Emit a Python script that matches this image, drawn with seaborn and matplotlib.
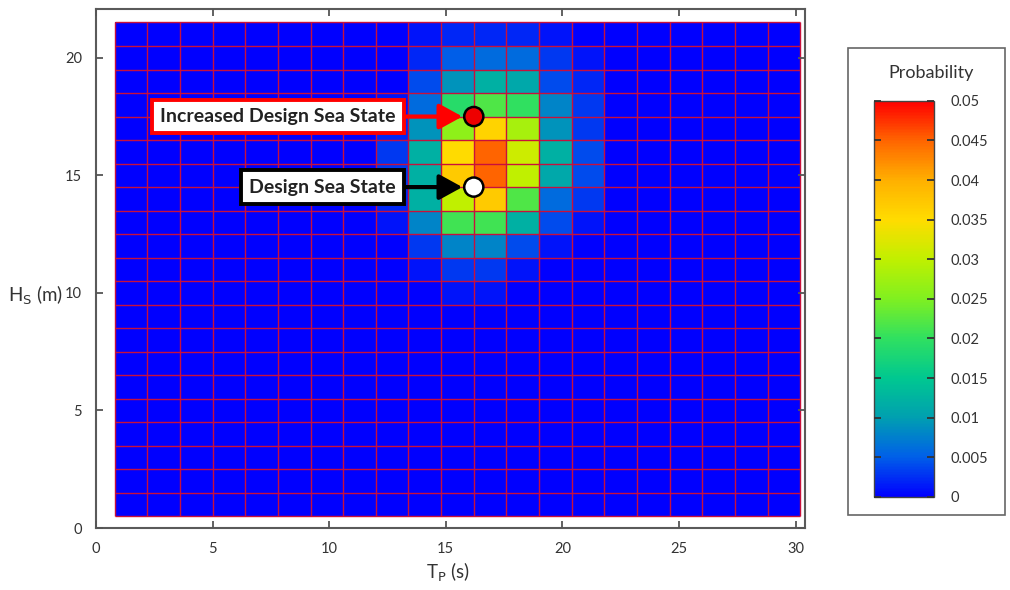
import numpy as np
import pandas as pd
import matplotlib
matplotlib.use("Agg")
import matplotlib.pyplot as plt
import seaborn as sns
from matplotlib.colors import LinearSegmentedColormap
from matplotlib.patches import Rectangle

# Grid of sea states: Tp column centres (s) and Hs row centres (m), top row first
tp_centers = [1.5, 2.9, 4.3, 5.7, 7.1, 8.5, 9.9, 11.3, 12.7, 14.1, 15.5,
              16.9, 18.3, 19.7, 21.1, 22.5, 23.9, 25.3, 26.7, 28.1, 29.5]
hs_centers = [21, 20, 19, 18, 17, 16, 15, 14, 13, 12, 11,
              10, 9, 8, 7, 6, 5, 4, 3, 2, 1]
tp_width = 1.4

# Non-zero part of the scatter diagram (Tp columns 12.7 .. 21.1 s), per Hs row
block_cols = [12.7, 14.1, 15.5, 16.9, 18.3, 19.7, 21.1]
block_rows = {
    21: [0.000, 0.001, 0.002, 0.002, 0.002, 0.001, 0.000],
    20: [0.000, 0.002, 0.005, 0.006, 0.006, 0.003, 0.001],
    19: [0.000, 0.004, 0.009, 0.012, 0.011, 0.004, 0.002],
    18: [0.001, 0.006, 0.019, 0.022, 0.020, 0.008, 0.003],
    17: [0.002, 0.009, 0.026, 0.036, 0.028, 0.009, 0.003],
    16: [0.003, 0.012, 0.035, 0.045, 0.031, 0.012, 0.004],
    15: [0.003, 0.012, 0.037, 0.045, 0.030, 0.011, 0.004],
    14: [0.002, 0.012, 0.030, 0.037, 0.022, 0.006, 0.003],
    13: [0.001, 0.008, 0.021, 0.021, 0.012, 0.004, 0.001],
    12: [0.000, 0.003, 0.008, 0.008, 0.004, 0.001, 0.000],
    11: [0.000, 0.001, 0.003, 0.003, 0.001, 0.000, 0.000],
    10: [0.000, 0.000, 0.001, 0.001, 0.000, 0.000, 0.000],
}

# Marked sea states (Tp, Hs)
design_tp, design_hs = 16.2, 14.5
increased_tp, increased_hs = 16.2, 17.5

x_ticks = [0, 5, 10, 15, 20, 25, 30]
y_ticks = [0, 5, 10, 15, 20]
cb_ticks = [0, 0.005, 0.01, 0.015, 0.02, 0.025, 0.03, 0.035, 0.04, 0.045, 0.05]

# Build the probability table
prob = pd.DataFrame(0.0, index=hs_centers, columns=tp_centers)
for hs, vals in block_rows.items():
    prob.loc[hs, block_cols] = vals

cmap = LinearSegmentedColormap.from_list("prob", [
    "#0000ff", "#0060e8", "#00a0b0", "#00c890", "#30e060", "#80f020",
    "#c0f000", "#ffdc00", "#ffb000", "#ff6600", "#ff0000"])

sns.set_style("white")
plt.rcParams["font.family"] = ["Lato", "DejaVu Sans"]

# heatmap cell coordinates <-> physical units
tp0 = tp_centers[0] - tp_width / 2
hs_top = hs_centers[0] + 0.5


def tp_to_x(tp):
    return (np.asarray(tp, dtype=float) - tp0) / tp_width


def hs_to_y(hs):
    return hs_top - np.asarray(hs, dtype=float)


fig = plt.figure(figsize=(10.1, 5.9), dpi=100)
ax = fig.add_axes([0.095, 0.105, 0.702, 0.88])
cax = fig.add_axes([0.865, 0.158, 0.0594, 0.671])

sns.heatmap(prob, ax=ax, cmap=cmap, vmin=0, vmax=0.05,
            cbar_ax=cax, cbar_kws={"ticks": cb_ticks},
            xticklabels=False, yticklabels=False)

# red cell borders
n_rows, n_cols = prob.shape
ax.vlines(np.arange(n_cols + 1), 0, n_rows, colors="#c8103c", lw=1.0, zorder=2)
ax.hlines(np.arange(n_rows + 1), 0, n_cols, colors="#c8103c", lw=1.0, zorder=2)

# numeric axes
ax.set_axisbelow(False)
ax.set_xlim(tp_to_x(0), tp_to_x(30.4))
ax.set_ylim(hs_to_y(0), hs_to_y(22.08))
ax.set_xticks(tp_to_x(x_ticks))
ax.set_xticklabels([str(t) for t in x_ticks])
ax.set_yticks(hs_to_y(y_ticks))
ax.set_yticklabels([str(t) for t in y_ticks])
for sp in ax.spines.values():
    sp.set_visible(True)
    sp.set_color("#5a5a5a")
    sp.set_linewidth(1.5)
ax.tick_params(direction="in", top=True, right=True, bottom=True, left=True,
               length=5, width=1.3, color="#555555", labelsize=10.5,
               labelcolor="#333333", pad=10)

# design points
pts = pd.DataFrame({
    "x": tp_to_x([increased_tp, design_tp]),
    "y": hs_to_y([increased_hs, design_hs]),
    "kind": ["Increased", "Design"],
})
sns.scatterplot(data=pts, x="x", y="y", hue="kind",
                palette={"Increased": "#ee0000", "Design": "white"},
                s=190, edgecolor="black", linewidth=1.8, legend=False,
                ax=ax, zorder=5)
ax.set_xlabel("T$_\\mathrm{P}$ (s)", fontsize=13.5, color="#333333")
ax.xaxis.set_label_coords(0.496, -0.063)
ax.set_ylabel("H$_\\mathrm{S}$ (m)", fontsize=13.5, color="#333333",
              rotation=0, ha="center", va="center")
ax.yaxis.set_label_coords(-0.085, 0.449)

# callouts
labels = [("Increased Design Sea State", increased_tp, increased_hs, "red"),
          ("Design Sea State", design_tp, design_hs, "black")]
for text, tp, hs, col in labels:
    ax.annotate(text, xy=(tp_to_x(tp) - 0.35, hs_to_y(hs)),
                xytext=(tp_to_x(12.85), hs_to_y(hs)),
                ha="right", va="center", fontsize=14, fontweight="bold",
                color="#222222",
                bbox=dict(boxstyle="square,pad=0.42", fc="white", ec=col, lw=2.8),
                arrowprops=dict(arrowstyle="-|>,head_length=1.0,head_width=0.55",
                                color=col, lw=3, shrinkA=0, shrinkB=0),
                zorder=6)

# colorbar
cb = ax.collections[0].colorbar
cb.outline.set_edgecolor("#444444")
cb.outline.set_linewidth(1.0)
cax.set_axisbelow(False)
cax.yaxis.set_ticks_position("both")
cax.tick_params(direction="in", length=5, width=1.3, color="#333333",
                labelsize=10.5, labelcolor="#333333", left=True, right=True,
                labelleft=False, labelright=True, pad=12)
cax.set_yticklabels([f"{t:g}" for t in cb_ticks])

fig.patches.append(Rectangle((0.8396, 0.127), 0.155, 0.792,
                             transform=fig.transFigure, fill=False,
                             ec="#666666", lw=1.2))
fig.text(0.922, 0.877, "Probability", ha="center", va="center",
         fontsize=13, color="#333333")

fig.savefig("out.png", dpi=100)
